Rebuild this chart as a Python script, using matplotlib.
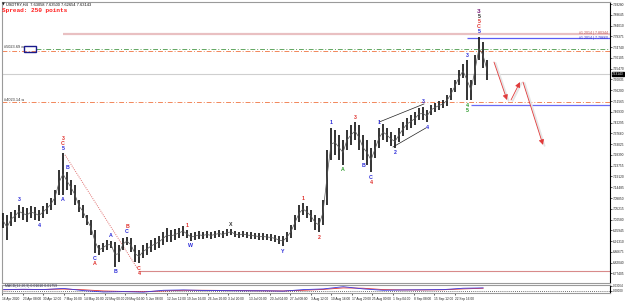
import matplotlib
matplotlib.use("Agg")
import matplotlib.pyplot as plt
from matplotlib.patches import Rectangle

# ---------------- data ----------------
header_text = "USDTRY,H4  7.63058 7.63500 7.62654 7.63143"
spread_text = "Spread: 250 points"

# one bar per trading day (price)
bar_high = [7.034, 7.026, 7.038, 7.047, 7.069, 7.060, 7.056, 7.064, 7.060, 7.047,
            7.064, 7.077, 7.099, 7.133, 7.219, 7.292, 7.210, 7.176, 7.155, 7.090,
            7.069, 7.026, 7.004, 6.961, 6.896, 6.905, 6.918, 6.914, 6.909, 6.896,
            6.927, 6.931, 6.927, 6.896, 6.875, 6.896, 6.905, 6.918, 6.927, 6.935,
            6.952, 6.970, 6.961, 6.965, 6.970, 6.978, 6.961, 6.948, 6.952, 6.957,
            6.952, 6.957, 6.952, 6.957, 6.961, 6.957, 6.965, 6.965, 6.957, 6.952,
            6.957, 6.952, 6.952, 6.948, 6.948, 6.948, 6.944, 6.944, 6.940, 6.935,
            6.935, 6.952, 6.983, 7.026, 7.069, 7.077, 7.064, 7.047, 7.026, 7.013,
            7.090, 7.305, 7.400, 7.391, 7.370, 7.348, 7.391, 7.413, 7.425, 7.413,
            7.370, 7.348, 7.314, 7.348, 7.400, 7.417, 7.400, 7.382, 7.370, 7.400,
            7.425, 7.443, 7.456, 7.468, 7.486, 7.490, 7.477, 7.499, 7.507, 7.516,
            7.520, 7.542, 7.572, 7.606, 7.649, 7.675, 7.692, 7.606, 7.714, 7.791,
            7.769, 7.692]
bar_low = [6.970, 6.918, 6.978, 6.995, 7.013, 7.004, 6.995, 7.013, 7.004, 7.000,
           7.013, 7.030, 7.047, 7.069, 7.112, 7.112, 7.133, 7.112, 7.069, 7.038,
           7.013, 6.983, 6.940, 6.862, 6.854, 6.866, 6.875, 6.884, 6.802, 6.823,
           6.875, 6.896, 6.866, 6.823, 6.819, 6.841, 6.854, 6.866, 6.875, 6.884,
           6.896, 6.909, 6.909, 6.918, 6.927, 6.935, 6.927, 6.914, 6.918, 6.923,
           6.923, 6.927, 6.923, 6.927, 6.931, 6.927, 6.935, 6.940, 6.931, 6.927,
           6.931, 6.927, 6.923, 6.923, 6.918, 6.918, 6.918, 6.914, 6.909, 6.901,
           6.892, 6.909, 6.927, 6.961, 6.995, 7.026, 7.013, 6.995, 6.961, 6.952,
           6.983, 7.069, 7.262, 7.284, 7.262, 7.241, 7.305, 7.327, 7.348, 7.305,
           7.262, 7.241, 7.210, 7.271, 7.314, 7.348, 7.339, 7.322, 7.314, 7.339,
           7.365, 7.391, 7.400, 7.413, 7.434, 7.434, 7.425, 7.456, 7.468, 7.477,
           7.486, 7.494, 7.520, 7.554, 7.585, 7.615, 7.520, 7.520, 7.585, 7.692,
           7.658, 7.606]
last_price = 7.63143
last_price_text = "7.63143"

price_ticks = [7.93280, 7.88645, 7.84010, 7.79375, 7.74740, 7.70105, 7.65470,
               7.60835, 7.56200, 7.51565, 7.46930, 7.42295, 7.37660, 7.33025,
               7.28390, 7.23755, 7.19120, 7.14485, 7.09850, 7.05215, 7.00580,
               6.95945, 6.91310, 6.86675, 6.82040, 6.77405]

date_labels = ["16 Apr 2020", "23 Apr 08:00", "30 Apr 12:00", "7 May 16:00",
               "14 May 20:00", "22 May 00:00", "29 May 04:00", "5 Jun 08:00",
               "12 Jun 12:00", "19 Jun 16:00", "26 Jun 20:00", "3 Jul 20:00",
               "13 Jul 00:00", "20 Jul 04:00", "27 Jul 08:00", "3 Aug 12:00",
               "10 Aug 16:00", "17 Aug 20:00", "25 Aug 00:00", "1 Sep 04:00",
               "8 Sep 08:00", "15 Sep 12:00", "22 Sep 16:00"]
bars_per_label = 5.15

# horizontal levels: (price, start bar)
level_pink = (7.8034, 15)
level_blue_top = (7.7866, 116)
level_green = (7.7393, 8.25)
level_orange_top = (7.7307, -0.25)
level_orange_low = (7.5114, -0.25)
level_blue_low = (7.4985, 117)
level_red = (6.7847, 33.75)

diag_x = [15.5, 33.5]
diag_y = [7.284, 6.798]

wedge_lines = [((94, 7.425), (105.25, 7.503)), ((97.5, 7.318), (105.75, 7.400))]

proj_segments = [((122.75, 7.683), (126.0, 7.520)),
                 ((127.0, 7.520), (129.25, 7.597)),
                 ((130.0, 7.597), (135.0, 7.327))]

# wave labels: (bar, side, [(text, colour key), ...]) stacked outward
wave_labels = [
    (4, "up", [("3", "b")]),
    (9, "dn", [("4", "b")]),
    (15, "up", [("5", "b"), ("C", "r"), ("3", "r")]),
    (15, "dn", [("A", "b")]),
    (16, "up", [("B", "b")]),
    (23, "dn", [("C", "b"), ("A", "r")]),
    (27, "up", [("A", "b")]),
    (28, "dn", [("B", "b")]),
    (31, "up", [("C", "b"), ("B", "r")]),
    (34, "dn", [("C", "r"), ("4", "r")]),
    (46, "up", [("1", "r")]),
    (47, "dn", [("W", "b")]),
    (57, "up", [("X", "k")]),
    (70, "dn", [("Y", "b")]),
    (75, "up", [("1", "r")]),
    (79, "dn", [("2", "r")]),
    (82, "up", [("1", "b")]),
    (85, "dn", [("A", "g")]),
    (88, "up", [("3", "r")]),
    (90, "dn", [("B", "b")]),
    (92, "dn", [("C", "b"), ("4", "r")]),
    (94, "up", [("1", "b")]),
    (98, "dn", [("2", "b")]),
    (105, "up", [("3", "b")]),
    (106, "dn", [("4", "b")]),
    (116, "up", [("3", "b")]),
    (116, "dn", [("4", "g"), ("5", "g")]),
    (119, "up", [("5", "b"), ("C", "r"), ("5", "r"), ("5", "k"), ("3", "p")]),
]

# MACD-like indicator in sub window
macd_bar = [0, 5, 10, 15, 20, 25, 30, 35, 40, 45, 50, 55, 60, 65, 70, 75, 80,
            85, 90, 95, 100, 105, 110, 115, 120]
macd_main = [0.008, 0.010, 0.008, 0.015, 0.002, -0.006, -0.004, -0.007, 0.004,
             0.006, 0.003, 0.002, 0.001, 0.001, -0.001, 0.008, 0.012, 0.025,
             0.012, 0.004, 0.006, 0.007, 0.008, 0.016, 0.018]
macd_signal = [0.007, 0.009, 0.009, 0.011, 0.007, 0.000, -0.003, -0.004, 0.000,
               0.004, 0.004, 0.003, 0.002, 0.001, 0.000, 0.004, 0.009, 0.018,
               0.016, 0.008, 0.006, 0.006, 0.007, 0.012, 0.016]
macd_title = "MACD(12,26,9) 0.01610 0.01759"
macd_ticks = [0.03, 0.0]
macd_tick_labels = ["0.03064", "0.00000"]

# ---------------- drawing ----------------
W, H = 625, 301
fig = plt.figure(figsize=(W / 100, H / 100), dpi=100)
fig.patch.set_facecolor("white")
plt.rcParams["font.family"] = ["Liberation Sans", "DejaVu Sans"]

PL, PR = 2, 610
ax = fig.add_axes([PL / W, 1 - 283 / H, (PR - PL) / W, (283 - 2) / H])
ax2 = fig.add_axes([PL / W, 1 - 293 / H, (PR - PL) / W, (293 - 285) / H])

XMIN, XMAX = -0.25, 151.75
ax.set_xlim(XMIN, XMAX)
ax.set_ylim(6.7331, 7.9414)

colors = {"b": "#2b2bd8", "r": "#e0302c", "g": "#2a9a2a", "k": "#303030", "p": "#7a1a7a"}


def hline(level, color, lw, ls="-", z=1):
    y, x0 = level
    ax.hlines(y, x0, XMAX, colors=color, linewidth=lw, linestyles=ls, zorder=z)


hline(level_pink, "#e9c0c2", 1.6)
hline(level_blue_top, "#5b5bf5", 0.9)
hline(level_green, "#62a862", 0.7, (0, (5, 2, 1, 2)))
hline(level_orange_top, "#f2875a", 0.7, (0, (5, 2, 1, 2)))
ax.axhline(last_price, color="#cfcfcf", lw=0.8, zorder=1)
hline(level_orange_low, "#f2875a", 0.7, (0, (5, 2, 1, 2)))
hline(level_blue_low, "#6a6af5", 0.9)
hline(level_red, "#d88a8a", 0.8)

# diagonal dotted
ax.plot(diag_x, diag_y, color="#e07070", lw=0.7, ls=(0, (1, 1.2)), zorder=2)

# bars
xs = list(range(len(bar_high)))
ax.vlines(xs, bar_low, bar_high, colors="#1a1a1a", linewidth=1.25, zorder=3)
ax.plot(xs, [(h + l) / 2 for h, l in zip(bar_high, bar_low)], color="#555555",
        lw=0.5, zorder=3)

# wedge
for (a, b) in wedge_lines:
    ax.plot([a[0], b[0]], [a[1], b[1]], color="#202020", lw=0.5, zorder=4)

# projection arrows
for (a, b) in proj_segments:
    ax.plot([a[0] + 0.4, b[0] + 0.4], [a[1] - 0.004, b[1] - 0.004],
            color="#e4e4e4", lw=1.3, zorder=2, solid_capstyle="round")
    ax.annotate("", xy=b, xytext=a,
                arrowprops=dict(arrowstyle="-|>,head_length=0.3,head_width=0.15",
                                color="#e03a3a", lw=0.6, shrinkA=0, shrinkB=0),
                zorder=5)

# wave labels
for bar, side, items in wave_labels:
    if side == "up":
        base = bar_high[bar]
        sgn = 1
    else:
        base = bar_low[bar]
        sgn = -1
    for k, (t, c) in enumerate(items):
        off = sgn * (3.6 + 3.6 * k)
        fs = 4.6 if c == "p" else 3.8
        ax.annotate(t, xy=(bar, base), xytext=(0, off), textcoords="offset points",
                    ha="center", va="center", fontsize=fs, color=colors[c],
                    fontweight="bold", zorder=6)

# right-hand labels for top lines
ax.text(XMAX - 0.5, level_pink[0] + 0.004, "#1 2014 | 7.80344", fontsize=2.6,
        color="#c05050", ha="right", va="center", zorder=6)
ax.text(XMAX - 0.5, level_blue_top[0] + 0.002, "#1 2014 | 7.78660", fontsize=2.6,
        color="#3030c0", ha="right", va="center", zorder=6)

# left labels
ax.text(0.2, level_green[0] + 0.008, "#5023.69 \u221e", fontsize=2.8, color="#303030",
        ha="left", va="center", zorder=6)
ax.add_patch(Rectangle((5.25, 7.7264), 3.0, 0.0258, fill=False, edgecolor="#1a1a8c",
                       lw=1.0, zorder=6))
ax.text(0.2, level_orange_low[0] + 0.008, "#4023.14 \u221e", fontsize=2.8,
        color="#303030", ha="left", va="center", zorder=6)

# header
fig.text(2 / W, 1 - 4 / H, "\u25bc", fontsize=2.6, color="#202020", va="center", ha="left",
         family="DejaVu Sans")
fig.text(6 / W, 1 - 4.5 / H, header_text, fontsize=2.9, color="#101010", va="center", ha="left")
fig.text(2 / W, 1 - 10.5 / H, spread_text, fontsize=4.4, color="#ff2020",
         fontweight="bold", family="Liberation Mono", va="center", ha="left")

# axes styling
for a in (ax, ax2):
    a.set_facecolor("white")
    for s in ("left", "top", "bottom"):
        a.spines[s].set_color("#9a9a9a")
        a.spines[s].set_linewidth(0.8)
    a.spines["right"].set_color("#000000")
    a.spines["right"].set_linewidth(0.8)
    a.yaxis.tick_right()
    a.tick_params(axis="y", length=1.4, width=0.5, pad=0.5, labelsize=2.3, colors="#202020")

ax.set_xticks([])
ax.set_yticks(price_ticks)
ax.set_yticklabels([f"{v:.5f}" for v in price_ticks])

# current price tag
ax.annotate(last_price_text, xy=(1.0, last_price), xycoords=("axes fraction", "data"),
            xytext=(1.6, 0), textcoords="offset points", fontsize=2.3, color="white",
            ha="left", va="center",
            bbox=dict(boxstyle="square,pad=0.12", fc="black", ec="black"), zorder=7)

# indicator
ax2.set_xlim(XMIN, XMAX)
ax2.set_ylim(-0.012, 0.035)
ax2.axhline(0.0, color="#404040", lw=0.6, ls=(0, (1, 1.5)))
ax2.plot(macd_bar, macd_signal, color="#e03030", lw=0.6)
ax2.plot(macd_bar, macd_main, color="#3a3ae0", lw=0.6)
ax2.text(0.3, 0.03, macd_title, fontsize=2.5, color="#303050", ha="left", va="center")
ax2.set_yticks(macd_ticks)
ax2.set_yticklabels(macd_tick_labels)
ax2.tick_params(axis="y", labelsize=2.2)

date_pos = [k * bars_per_label - 0.4 for k in range(len(date_labels))]
ax2.set_xticks(date_pos)
ax2.set_xticklabels(date_labels, ha="left")
ax2.tick_params(axis="x", length=1.5, width=0.5, pad=1.2, labelsize=2.3, colors="#202020")

fig.savefig("out.png", dpi=100, facecolor="white")
